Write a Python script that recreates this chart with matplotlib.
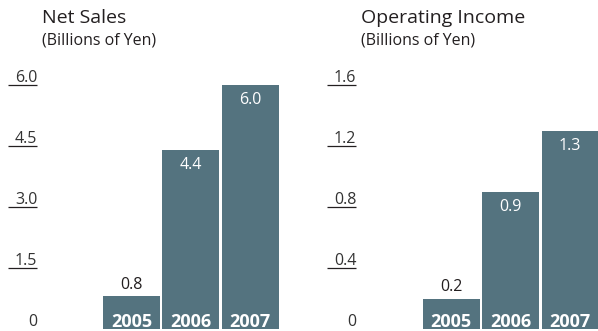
import matplotlib
matplotlib.use('Agg')
import matplotlib.pyplot as plt
import matplotlib.transforms as mtransforms

plt.rcParams['font.family'] = ['Open Sans', 'DejaVu Sans']

# Data
years = ['2005', '2006', '2007']
net_sales = [0.8, 4.4, 6.0]
operating_income = [0.2, 0.9, 1.3]
sales_ticks = [0, 1.5, 3.0, 4.5, 6.0]
income_ticks = [0, 0.4, 0.8, 1.2, 1.6]

BAR_COLOR = '#54737f'
TEXT_COLOR = '#231f20'

W, H = 598, 331
fig = plt.figure(figsize=(W / 100, H / 100), dpi=100)


def draw_panel(px_left, px_width, center0, spacing, title, values, ticks):
    # axes placed in pixel terms, y range from baseline (329) to top tick (85)
    ax = fig.add_axes([px_left / W, 2 / H, px_width / W, 244 / H])
    a = -center0 / spacing
    ax.set_xlim(a, a + px_width / spacing)
    ax.set_ylim(0, ticks[-1])
    ax.axis('off')

    width = 57 / spacing
    x = list(range(len(values)))
    ax.bar(x, values, width=width, color=BAR_COLOR, clip_on=True)

    # short tick rules with labels sitting on top of them
    x0, x1 = -2.08, -1.59
    ax.hlines(ticks[1:], x0, x1, color=TEXT_COLOR, lw=0.9, clip_on=False)
    for t in ticks:
        lab = '0' if t == 0 else f'{t:.1f}'
        off = -0.8 if t == 0 else -0.5
        ax.annotate(lab, (x1, t), xytext=(0, off), textcoords='offset points',
                    ha='right', va='bottom', fontsize=11.5, color='#333333',
                    annotation_clip=False)

    # titles
    trans = mtransforms.blended_transform_factory(ax.transData, ax.transAxes)
    ax.text(-1.51, 1.275, title, transform=trans, ha='left', va='center',
            fontsize=14, color=TEXT_COLOR)
    ax.text(-1.51, 1.184, '(Billions of Yen)', transform=trans, ha='left',
            va='center', fontsize=11.5, color=TEXT_COLOR)

    # value and year labels
    for i, v in enumerate(values):
        if v / ticks[-1] < 0.3:
            ax.annotate(f'{v:.1f}', (i, v), xytext=(0, 8), textcoords='offset points',
                        ha='center', va='center', fontsize=11.5, color=TEXT_COLOR)
        else:
            ax.annotate(f'{v:.1f}', (i, v), xytext=(0, -11), textcoords='offset points',
                        ha='center', va='center', fontsize=11.5, color='white')
        ax.annotate(years[i], (i, 0), xytext=(0, 5), textcoords='offset points',
                    ha='center', va='center', fontsize=13, color='white',
                    fontweight='bold')
    return ax


draw_panel(0, 300, 131.5, 59.3, 'Net Sales', net_sales, sales_ticks)
draw_panel(300, 298, 151, 59.5, 'Operating Income', operating_income, income_ticks)

fig.savefig('out.png', dpi=100)
